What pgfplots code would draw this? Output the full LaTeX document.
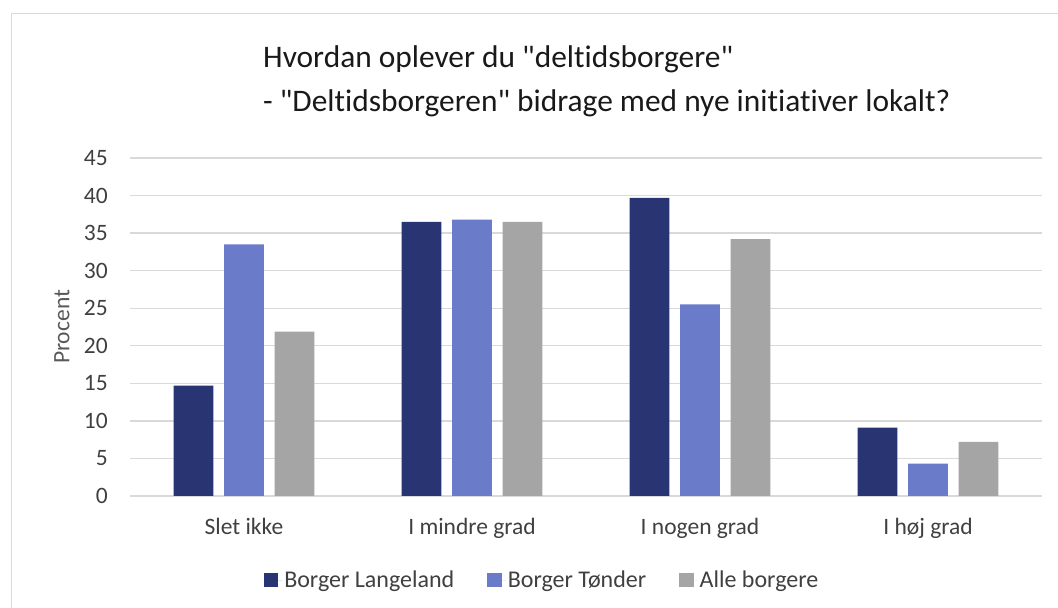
\documentclass[border=0pt]{standalone}
\usepackage{fontspec}
\setmainfont{Carlito}[Ligatures={NoCommon,TeXOff}]
\usepackage{pgfplots}
\pgfplotsset{compat=1.18}
\definecolor{cL}{HTML}{293472}
\definecolor{cT}{HTML}{6A7BC9}
\definecolor{cA}{HTML}{A5A5A5}
\definecolor{txt}{HTML}{404040}
\definecolor{lab}{HTML}{595959}
\definecolor{grd}{HTML}{D9D9D9}
\begin{document}
\begin{tikzpicture}[x=1pt,y=1pt]
\useasboundingbox (0,0) rectangle (1058,608);
\draw[color=grd, line width=1pt] (11,-10) rectangle (1080,594);
\node[anchor=base west, align=left, inner sep=0pt, font=\fontsize{31.4}{44}\selectfont, text=black!90] at (263,608-112) {Hvordan oplever du "deltidsborgere"\\- "Deltidsborgeren" bidrage med nye initiativer lokalt?};
\begin{axis}[
  at={(130pt,112pt)}, anchor=south west,
  width=912pt, height=338pt, scale only axis,
  xmin=-0.5, xmax=3.5, ymin=0, ymax=45,
  ytick={0,5,...,45},
  xtick={0,1,2,3},
  xticklabels={Slet ikke, I mindre grad, I nogen grad, I høj grad},
  ymajorgrids,
  grid style={color=grd, line width=1.3pt},
  axis line style={draw=none},
  major tick length=0pt,
  /pgf/number format/assume math mode=true,
  ticklabel style={font=\fontsize{23.5}{28}\selectfont, text=txt},
  yticklabel style={inner sep=0pt, anchor=east, xshift=-22pt},
  xticklabel style={inner sep=0pt, anchor=base, yshift=-38pt},
  ylabel={Procent},
  ylabel style={at={(axis description cs:-0.0746,0.5)}, anchor=center, font=\fontsize{23.5}{28}\selectfont, text=lab},
  bar width=0.175,
  legend columns=3,
  legend style={at={(0.4518,-0.249)}, anchor=center, draw=none, font=\fontsize{24}{28}\selectfont, text=txt,
    /tikz/every even column/.append style={column sep=31pt}, inner sep=0pt},
  legend image code/.code={\fill[#1] (0pt,-7.25pt) rectangle (14.5pt,7.25pt); \path (0pt,0pt) -- (18.5pt,0pt);},
]
\addplot[ybar, fill=cL, draw=none, bar shift=-0.2215] coordinates {(0,14.7) (1,36.5) (2,39.7) (3,9.1)};
\addplot[ybar, fill=cT, draw=none, bar shift=0] coordinates {(0,33.5) (1,36.8) (2,25.5) (3,4.3)};
\addplot[ybar, fill=cA, draw=none, bar shift=0.2215] coordinates {(0,21.9) (1,36.5) (2,34.2) (3,7.2)};
\legend{Borger Langeland, Borger Tønder, Alle borgere}
\end{axis}
\end{tikzpicture}
\end{document}
